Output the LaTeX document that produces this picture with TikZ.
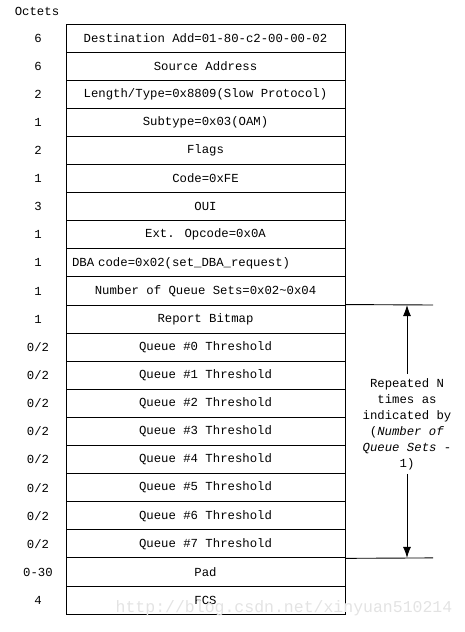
\documentclass[tikz,border=0pt]{standalone}
\usepackage{fontspec}
\setmainfont{Liberation Mono}
\usetikzlibrary{arrows.meta}
\tikzset{
  field/.style={draw, line width=0.9pt, minimum width=279pt, minimum height=28.1pt, inner sep=0pt, anchor=center, font=\fontsize{12.3}{15}\selectfont},
  oct/.style={font=\fontsize{12.3}{15}\selectfont, anchor=center},
  conn/.style={line width=0.9pt},
  arr/.style={line width=0.9pt, -{Latex[length=11pt,width=8pt]}}
}
\begin{document}
\begin{tikzpicture}[x=1pt,y=-1pt]
\useasboundingbox (0,0) rectangle (465,632);
\node[oct] (octets) at (37,11) {Octets};
% rows
\node[field] (r0) at (205.5,38.05) {Destination Add=01-80-c2-00-00-02};
\node[field] (r1) at (205.5,66.15) {Source Address};
\node[field] (r2) at (205.5,94.25) {Length/Type=0x8809(Slow Protocol)};
\node[field] (r3) at (205.5,122.35) {Subtype=0x03(OAM)};
\node[field] (r4) at (205.5,150.45) {Flags};
\node[field] (r5) at (205.5,178.55) {Code=0xFE};
\node[field] (r6) at (205.5,206.65) {OUI};
\node[field] (r7) at (205.5,234.75) {Ext. Opcode=0x0A};
\node[field, align=left, text width=267pt] (r8) at (205.5,262.85) {DBA code=0x02(set\_DBA\_request)};
\node[field] (r9) at (205.5,290.95) {Number of Queue Sets=0x02\textasciitilde{}0x04};
\node[field] (r10) at (205.5,319.05) {Report Bitmap};
\node[field] (r11) at (205.5,347.15) {Queue \#0 Threshold};
\node[field] (r12) at (205.5,375.25) {Queue \#1 Threshold};
\node[field] (r13) at (205.5,403.35) {Queue \#2 Threshold};
\node[field] (r14) at (205.5,431.45) {Queue \#3 Threshold};
\node[field] (r15) at (205.5,459.55) {Queue \#4 Threshold};
\node[field] (r16) at (205.5,487.65) {Queue \#5 Threshold};
\node[field] (r17) at (205.5,515.75) {Queue \#6 Threshold};
\node[field] (r18) at (205.5,543.85) {Queue \#7 Threshold};
\node[field] (r19) at (205.5,571.95) {Pad};
\node[field] (r20) at (205.5,600.05) {FCS};
% octet counts
\node[oct] (o0) at (38,38.05) {6};
\node[oct] (o1) at (38,66.15) {6};
\node[oct] (o2) at (38,94.25) {2};
\node[oct] (o3) at (38,122.35) {1};
\node[oct] (o4) at (38,150.45) {2};
\node[oct] (o5) at (38,178.55) {1};
\node[oct] (o6) at (38,206.65) {3};
\node[oct] (o7) at (38,234.75) {1};
\node[oct] (o8) at (38,262.85) {1};
\node[oct] (o9) at (38,290.95) {1};
\node[oct] (o10) at (38,319.05) {1};
\node[oct] (o11) at (38,347.15) {0/2};
\node[oct] (o12) at (38,375.25) {0/2};
\node[oct] (o13) at (38,403.35) {0/2};
\node[oct] (o14) at (38,431.45) {0/2};
\node[oct] (o15) at (38,459.55) {0/2};
\node[oct] (o16) at (38,487.65) {0/2};
\node[oct] (o17) at (38,515.75) {0/2};
\node[oct] (o18) at (38,543.85) {0/2};
\node[oct] (o19) at (38,571.95) {0-30};
\node[oct] (o20) at (38,600.05) {4};
% repetition marker
\coordinate (topR) at (433,305);
\coordinate (botR) at (433,557.9);
\coordinate (topA) at (407,305);
\coordinate (botA) at (407,557.9);
\draw[conn] (r10.north east) -- (topR);
\draw[conn] (r18.south east) -- (botR);
\node[oct, align=center, font=\fontsize{12.3}{16}\selectfont, inner xsep=0pt, inner ysep=4pt] (rep) at (407,424)
  {Repeated N\\times as\\indicated by\\(\textit{Number of}\\\textit{Queue Sets} -\\1)};
\draw[arr] (rep.north) -- (topA);
\draw[arr] (rep.south) -- (botA);
% watermark
\node[font=\fontsize{16.5}{18}\selectfont, text=gray!22, anchor=center] (wm) at (284,608) {http://blog.csdn.net/xinyuan510214};
\end{tikzpicture}
\end{document}
